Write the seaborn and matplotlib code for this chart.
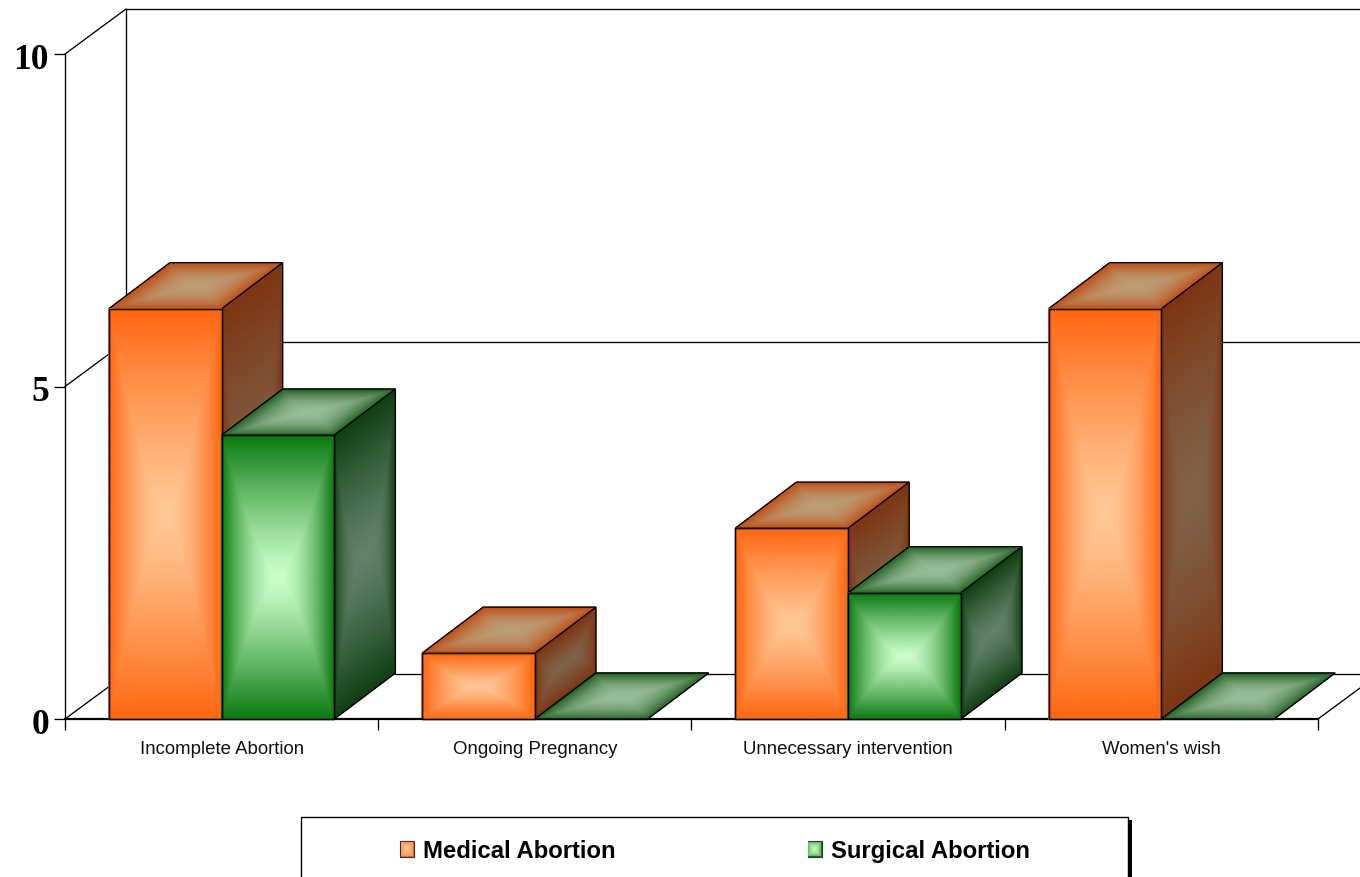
import numpy as np
import pandas as pd
import matplotlib
matplotlib.use("Agg")
import matplotlib.pyplot as plt
import seaborn as sns
from matplotlib.collections import QuadMesh
from matplotlib.colors import LinearSegmentedColormap, Normalize, to_rgb
from matplotlib.legend_handler import HandlerBase
from matplotlib.lines import Line2D
from matplotlib.patches import Patch, Polygon, Rectangle
from matplotlib.transforms import ScaledTranslation

categories = ["Incomplete Abortion", "Ongoing Pregnancy",
              "Unnecessary intervention", "Women's wish"]
series_names = ["Medical Abortion", "Surgical Abortion"]
medical = [6.17, 0.99, 2.87, 6.17]
surgical = [4.27, 0.0, 1.9, 0.0]
y_ticks = [0, 5, 10]

# (centre, edge) colour of each face of a bar
face_colors = {
    "Medical Abortion": {"front": ("#FFC998", "#FF6610"),
                         "side": ("#80624A", "#7D3512"),
                         "top": ("#BC9C74", "#BE5018")},
    "Surgical Abortion": {"front": ("#CCFFCC", "#0B7A10"),
                          "side": ("#62826A", "#103F12"),
                          "top": ("#98BC98", "#276427")},
}

FIG_W, FIG_H = 1360, 877
LW = 0.95

sns.set_theme(style="white")
fig = plt.figure(figsize=(FIG_W / 100, FIG_H / 100), dpi=100, facecolor="white")
ax = fig.add_axes([65 / FIG_W, 1 - 719 / FIG_H, (1318 - 65) / FIG_W, (719 - 54) / FIG_H])

df = pd.DataFrame({
    "category": categories * 2,
    "series": [series_names[0]] * 4 + [series_names[1]] * 4,
    "value": medical + surgical,
})
sns.barplot(data=df, x="category", y="value", hue="series", hue_order=series_names,
            order=categories, width=0.72, gap=0, dodge=True, legend=False,
            palette=[face_colors[s]["front"][1] for s in series_names],
            edgecolor="black", linewidth=LW, saturation=1, ax=ax)

ax.set_xlim(-0.5, len(categories) - 0.5)
ax.set_ylim(0, 10)
ax.patch.set_visible(False)

# Receding depth of the chart box, converted from pixels to data units
depth_x = 61 / ((1318 - 65) / len(categories))
depth_y = 45 / ((719 - 54) / 10)
bar_depth_y = 46 / ((719 - 54) / 10)


def wall_line(xs, ys):
    ax.add_line(Line2D(xs, ys, color="black", lw=LW, clip_on=False, zorder=1))


x_left, x_right = -0.5, len(categories) - 0.5
for level in y_ticks:
    wall_line([x_left, x_left + depth_x], [level, level + depth_y])
    wall_line([x_left + depth_x, x_right + depth_x], [level + depth_y] * 2)
wall_line([x_left + depth_x] * 2, [depth_y, 10 + depth_y])
wall_line([x_right, x_right + depth_x], [0, depth_y])


def shaded_face(origin, edge_u, edge_v, colors, power_u, power_v, zorder):
    """Fill a parallelogram with a box gradient running out from its centre."""
    u, v = np.meshgrid(np.linspace(0, 1, 81), np.linspace(0, 1, 81))
    X = origin[0] + u * edge_u[0] + v * edge_v[0]
    Y = origin[1] + u * edge_u[1] + v * edge_v[1]
    t = np.maximum(np.abs(2 * u - 1) ** power_u, np.abs(2 * v - 1) ** power_v)
    cmap = LinearSegmentedColormap.from_list("face", list(colors))
    mesh = QuadMesh(np.dstack([X, Y]), shading="gouraud", antialiased=False,
                    cmap=cmap, norm=Normalize(0, 1), transform=ax.transData,
                    clip_on=False, zorder=zorder)
    mesh.set_array(t)
    ax.add_collection(mesh, autolim=False)
    corners = [origin,
               (origin[0] + edge_u[0], origin[1] + edge_u[1]),
               (origin[0] + edge_u[0] + edge_v[0], origin[1] + edge_u[1] + edge_v[1]),
               (origin[0] + edge_v[0], origin[1] + edge_v[1])]
    ax.add_patch(Polygon(corners, closed=True, fill=False, edgecolor="black",
                         lw=LW, clip_on=False, zorder=zorder + 0.1))


# Paint bars from left to right so nearer faces cover their neighbours
bars = []
for name, container in zip(series_names, ax.containers):
    for bar in container:
        bars.append((bar.get_x(), name, bar))
bars.sort(key=lambda item: item[0])

for i, (x0, name, bar) in enumerate(bars):
    base = 3 + i
    w, h = bar.get_width(), bar.get_height()
    colors = face_colors[name]
    if h > 0:
        shaded_face((x0 + w, 0), (depth_x, bar_depth_y), (0, h), colors["side"], 3.0, 1.3, base)
    shaded_face((x0, h), (w, 0), (depth_x, bar_depth_y), colors["top"], 2.4, 2.0, base + 0.2)
    if h > 0:
        shaded_face((x0, 0), (w, 0), (0, h), colors["front"], 1.7, 1.2, base + 0.4)
    bar.set_zorder(base + 0.6)
    bar.set_facecolor("none")
    bar.set_clip_on(False)

# Axes: y labels in a bold serif, category labels under boundary ticks
sns.despine(ax=ax, top=True, right=True)
for side in ("left", "bottom"):
    ax.spines[side].set_color("black")
    ax.spines[side].set_zorder(2.5)
ax.spines["left"].set_linewidth(LW)
ax.spines["bottom"].set_linewidth(1.6)
ax.set_xlabel("")
ax.set_ylabel("")
ax.set_yticks(y_ticks)
ax.set_yticklabels([str(v) for v in y_ticks], family="Liberation Serif",
                   weight="bold", fontsize=25.5, color="black")
ax.tick_params(axis="y", length=8, width=LW, color="black", pad=3.5, left=True)
label_shift = ScaledTranslation(0, -1.5 / 72, fig.dpi_scale_trans)
for label in ax.get_yticklabels():
    label.set_transform(label.get_transform() + label_shift)
ax.set_xticks(range(len(categories)))
ax.set_xticklabels(categories, family="Liberation Sans", fontsize=13.4, color="#111111")
ax.set_xticks(np.arange(len(categories) + 1) - 0.5, minor=True)
ax.tick_params(axis="x", which="major", length=0, pad=15.5)
ax.tick_params(axis="x", which="minor", length=8, width=LW, color="black", bottom=True)


# Legend: frame runs past the lower figure edge, with a heavy right shadow
def fx(px):
    return px / FIG_W


def fy(py):
    return 1 - py / FIG_H


fig.add_artist(Rectangle((fx(301), fy(890)), fx(1128) - fx(301), fy(817) - fy(890),
                         transform=fig.transFigure, facecolor="white",
                         edgecolor="black", lw=1.0))
fig.add_artist(Rectangle((fx(1128), 0), fx(4), fy(820),
                         transform=fig.transFigure, facecolor="black", edgecolor="none"))


class GradientSwatch(HandlerBase):
    """Legend key made of nested rectangles that step from edge to centre colour."""

    def __init__(self, colors, steps=8):
        super().__init__()
        self.colors = colors
        self.steps = steps

    def create_artists(self, legend, orig_handle, xdescent, ydescent, width, height,
                       fontsize, trans):
        inner = np.array(to_rgb(self.colors[0]))
        outer = np.array(to_rgb(self.colors[1]))
        artists = []
        for k in range(self.steps):
            f = k / self.steps
            inset_x, inset_y = f * width / 2, f * height / 2
            artists.append(Rectangle(
                (-xdescent + inset_x, -ydescent + inset_y),
                width - 2 * inset_x, height - 2 * inset_y,
                facecolor=outer + (inner - outer) * (f ** 0.35),
                edgecolor="#333333" if k == 0 else "none",
                lw=0.8 if k == 0 else 0, transform=trans))
        return artists


handles = [Patch(label=s) for s in series_names]
handler_map = {h: GradientSwatch(face_colors[s]["front"]) for h, s in zip(handles, series_names)}
leg = fig.legend(handles=handles, handler_map=handler_map, ncols=2, frameon=False,
                 loc="center left", bbox_to_anchor=(fx(400), fy(851)),
                 bbox_transform=fig.transFigure, borderpad=0, borderaxespad=0,
                 prop={"family": "Liberation Sans", "weight": "bold", "size": 17.2},
                 handlelength=0.586, handleheight=0.68, handletextpad=0.38,
                 columnspacing=8.03, labelcolor="black")
# Keep both entries on one baseline
leg.get_texts()[1].set_y(-0.5)

fig.savefig("out.png", dpi=100)
